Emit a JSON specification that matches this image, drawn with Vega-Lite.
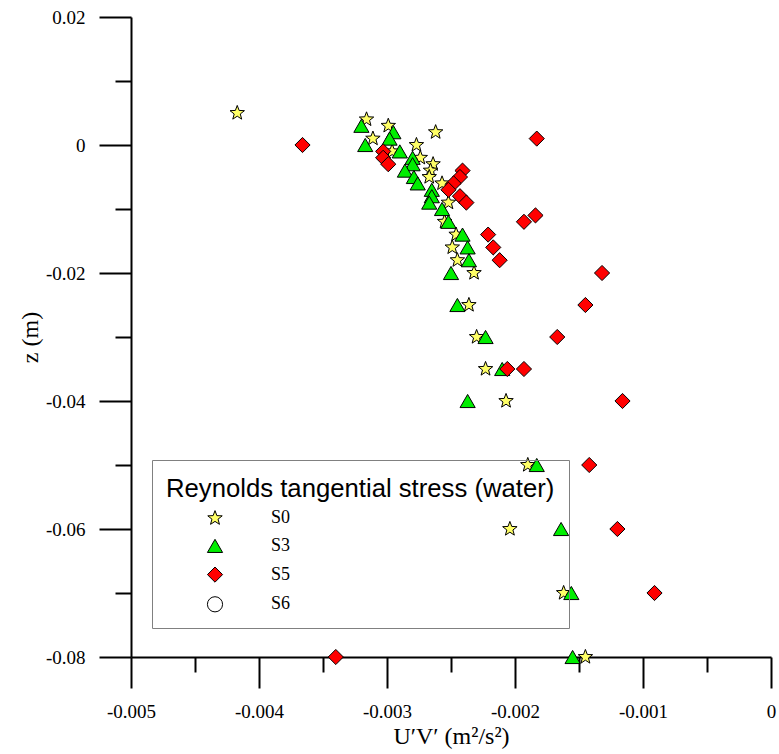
{
  "$schema": "https://vega.github.io/schema/vega-lite/v6.json",
  "width": 640,
  "height": 640,
  "autosize": {"type": "none"},
  "padding": {"left": 131, "top": 17, "right": 8, "bottom": 97},
  "background": "white",
  "config": {
    "view": {"stroke": null},
    "axis": {
      "domainColor": "black",
      "domainWidth": 2,
      "tickColor": "black",
      "tickWidth": 2,
      "grid": false,
      "labelFont": "Liberation Serif",
      "labelFontSize": 19,
      "labelColor": "black",
      "titleFont": "Liberation Serif",
      "titleFontSize": 24,
      "titleFontWeight": "normal",
      "titleColor": "black",
      "labelFlush": false,
      "labelOverlap": false
    }
  },
  "data": {
    "values": [
      {"x": -0.00417, "z": 0.005, "s": "S0"},
      {"x": -0.00316, "z": 0.004, "s": "S0"},
      {"x": -0.00299, "z": 0.003, "s": "S0"},
      {"x": -0.00262, "z": 0.002, "s": "S0"},
      {"x": -0.00311, "z": 0.001, "s": "S0"},
      {"x": -0.00277, "z": 0.0, "s": "S0"},
      {"x": -0.00296, "z": -0.001, "s": "S0"},
      {"x": -0.00274, "z": -0.002, "s": "S0"},
      {"x": -0.00264, "z": -0.003, "s": "S0"},
      {"x": -0.00266, "z": -0.004, "s": "S0"},
      {"x": -0.00267, "z": -0.005, "s": "S0"},
      {"x": -0.00257, "z": -0.006, "s": "S0"},
      {"x": -0.00252, "z": -0.009, "s": "S0"},
      {"x": -0.00255, "z": -0.012, "s": "S0"},
      {"x": -0.00246, "z": -0.014, "s": "S0"},
      {"x": -0.00249, "z": -0.016, "s": "S0"},
      {"x": -0.00245, "z": -0.018, "s": "S0"},
      {"x": -0.00232, "z": -0.020, "s": "S0"},
      {"x": -0.00236, "z": -0.025, "s": "S0"},
      {"x": -0.0023, "z": -0.030, "s": "S0"},
      {"x": -0.00223, "z": -0.035, "s": "S0"},
      {"x": -0.00207, "z": -0.040, "s": "S0"},
      {"x": -0.0019, "z": -0.050, "s": "S0"},
      {"x": -0.00204, "z": -0.060, "s": "S0"},
      {"x": -0.00162, "z": -0.070, "s": "S0"},
      {"x": -0.00145, "z": -0.080, "s": "S0"},
      {"x": -0.0032, "z": 0.003, "s": "S3"},
      {"x": -0.00295, "z": 0.002, "s": "S3"},
      {"x": -0.00298, "z": 0.001, "s": "S3"},
      {"x": -0.00317, "z": 0.0, "s": "S3"},
      {"x": -0.0029, "z": -0.001, "s": "S3"},
      {"x": -0.0028, "z": -0.002, "s": "S3"},
      {"x": -0.0028, "z": -0.003, "s": "S3"},
      {"x": -0.00286, "z": -0.004, "s": "S3"},
      {"x": -0.00279, "z": -0.005, "s": "S3"},
      {"x": -0.00276, "z": -0.006, "s": "S3"},
      {"x": -0.00265, "z": -0.007, "s": "S3"},
      {"x": -0.00265, "z": -0.008, "s": "S3"},
      {"x": -0.00267, "z": -0.009, "s": "S3"},
      {"x": -0.00257, "z": -0.010, "s": "S3"},
      {"x": -0.00252, "z": -0.012, "s": "S3"},
      {"x": -0.00241, "z": -0.014, "s": "S3"},
      {"x": -0.00237, "z": -0.016, "s": "S3"},
      {"x": -0.00236, "z": -0.018, "s": "S3"},
      {"x": -0.0025, "z": -0.020, "s": "S3"},
      {"x": -0.00245, "z": -0.025, "s": "S3"},
      {"x": -0.00223, "z": -0.030, "s": "S3"},
      {"x": -0.0021, "z": -0.035, "s": "S3"},
      {"x": -0.00237, "z": -0.040, "s": "S3"},
      {"x": -0.00183, "z": -0.050, "s": "S3"},
      {"x": -0.00164, "z": -0.060, "s": "S3"},
      {"x": -0.00156, "z": -0.070, "s": "S3"},
      {"x": -0.00155, "z": -0.080, "s": "S3"},
      {"x": -0.00366, "z": 0.0, "s": "S5"},
      {"x": -0.00183, "z": 0.001, "s": "S5"},
      {"x": -0.00303, "z": -0.001, "s": "S5"},
      {"x": -0.00303, "z": -0.002, "s": "S5"},
      {"x": -0.00299, "z": -0.003, "s": "S5"},
      {"x": -0.00241, "z": -0.004, "s": "S5"},
      {"x": -0.00243, "z": -0.005, "s": "S5"},
      {"x": -0.00248, "z": -0.006, "s": "S5"},
      {"x": -0.00252, "z": -0.007, "s": "S5"},
      {"x": -0.00243, "z": -0.008, "s": "S5"},
      {"x": -0.00238, "z": -0.009, "s": "S5"},
      {"x": -0.00184, "z": -0.011, "s": "S5"},
      {"x": -0.00193, "z": -0.012, "s": "S5"},
      {"x": -0.00221, "z": -0.014, "s": "S5"},
      {"x": -0.00217, "z": -0.016, "s": "S5"},
      {"x": -0.00212, "z": -0.018, "s": "S5"},
      {"x": -0.00132, "z": -0.020, "s": "S5"},
      {"x": -0.00145, "z": -0.025, "s": "S5"},
      {"x": -0.00167, "z": -0.030, "s": "S5"},
      {"x": -0.00206, "z": -0.035, "s": "S5"},
      {"x": -0.00193, "z": -0.035, "s": "S5"},
      {"x": -0.00116, "z": -0.040, "s": "S5"},
      {"x": -0.00142, "z": -0.050, "s": "S5"},
      {"x": -0.0012, "z": -0.060, "s": "S5"},
      {"x": -0.00091, "z": -0.070, "s": "S5"},
      {"x": -0.0034, "z": -0.080, "s": "S5"}
    ]
  },
  "mark": {"type": "point", "strokeWidth": 1, "size": 230, "opacity": 1, "fillOpacity": 1, "strokeOpacity": 1},
  "encoding": {
    "x": {
      "field": "x",
      "type": "quantitative",
      "scale": {"domain": [-0.005, 0], "nice": false, "zero": false},
      "axis": {
        "title": "U′V′ (m²/s²)",
        "values": [-0.005, -0.0045, -0.004, -0.0035, -0.003, -0.0025, -0.002, -0.0015, -0.001, -0.0005, 0],
        "tickSize": {"condition": {"test": "abs(round(datum.value*10000)) % 10 == 0", "value": 31}, "value": 15},
        "labelExpr": "abs(round(datum.value*10000)) % 10 == 0 ? (datum.value < -1e-9 ? '-' : '') + format(abs(datum.value), '~g') : ''",
        "labelPadding": 14,
        "titlePadding": 3
      }
    },
    "y": {
      "field": "z",
      "type": "quantitative",
      "scale": {"domain": [-0.08, 0.02], "nice": false, "zero": false},
      "axis": {
        "title": "z (m)",
        "values": [0.02, 0.01, 0, -0.01, -0.02, -0.03, -0.04, -0.05, -0.06, -0.07, -0.08],
        "tickSize": {"condition": {"test": "abs(round(datum.value*100)) % 2 == 0", "value": 32}, "value": 16},
        "labelExpr": "abs(round(datum.value*100)) % 2 == 0 ? (datum.value < -1e-9 ? '-' : '') + format(abs(datum.value), '~g') : ''",
        "labelPadding": 14,
        "titlePadding": 3
      }
    },
    "fill": {
      "field": "s",
      "type": "nominal",
      "scale": {"domain": ["S0", "S3", "S5", "S6"], "range": ["#ffff66", "#00ee00", "#ff0000", "#ffffff"]}
    },
    "stroke": {
      "field": "s",
      "type": "nominal",
      "scale": {"domain": ["S0", "S3", "S5", "S6"], "range": ["#000000", "#000000", "#000000", "#000000"]}
    },
    "shape": {
      "field": "s",
      "type": "nominal",
      "scale": {
        "domain": ["S0", "S3", "S5", "S6"],
        "range": ["M0,-1L0.247,-0.34L0.951,-0.309L0.4,0.13L0.588,0.809L0,0.42L-0.588,0.809L-0.4,0.13L-0.951,-0.309L-0.247,-0.34Z", "triangle-up", "diamond", "circle"]
      },
      "legend": {
        "title": "Reynolds tangential stress (water)",
        "orient": "none",
        "legendX": 21,
        "legendY": 443,
        "direction": "vertical",
        "padding": 14,
        "strokeColor": "#808080",
        "titleFont": "Liberation Sans",
        "titleFontSize": 25.7,
        "titleFontWeight": "normal",
        "titleColor": "black",
        "titleLimit": 600,
        "titleBaseline": "line-top",
        "titleLineHeight": 31,
        "titlePadding": 9.5,
        "labelFont": "Liberation Serif",
        "labelFontSize": 18,
        "labelColor": "black",
        "labelLimit": 200,
        "symbolSize": 230,
        "symbolStrokeWidth": 1,
        "symbolOffset": 40,
        "labelOffset": 47,
        "rowPadding": 9.7
      }
    }
  }
}
